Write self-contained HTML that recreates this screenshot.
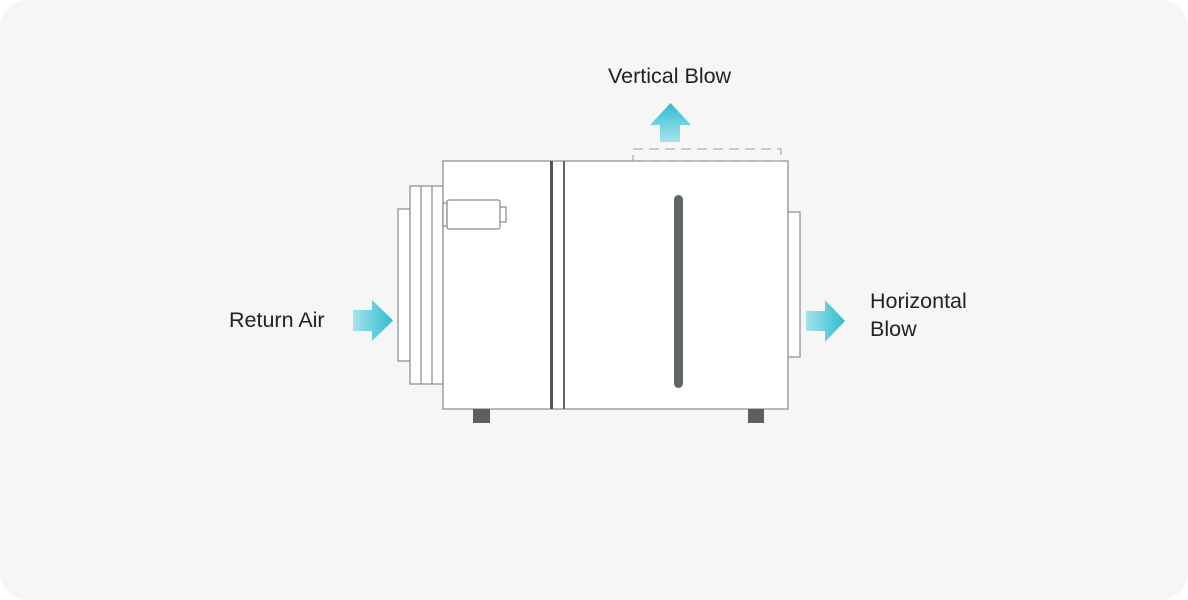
<!DOCTYPE html>
<html><head><style>
html,body{margin:0;padding:0;background:#fff;}
.card{position:absolute;left:0;top:0;width:1188px;height:600px;background:#f6f6f6;border-radius:28px;}
svg{position:absolute;left:0;top:0;}
text{font-family:"Liberation Sans",sans-serif;font-size:21.5px;fill:#222;}
</style></head><body>
<div class="card"></div>
<svg width="1188" height="600" viewBox="0 0 1188 600">
<defs>
<linearGradient id="gh" x1="0" x2="1" y1="0" y2="0"><stop offset="0" stop-color="#a6e3ee"/><stop offset="1" stop-color="#2fbccb"/></linearGradient>
<linearGradient id="gv" x1="0" x2="0" y1="1" y2="0"><stop offset="0" stop-color="#a6e3ee"/><stop offset="1" stop-color="#2fbccb"/></linearGradient>
</defs>
<g fill="#fff" stroke="#8a8a8a" stroke-width="1.2">
<rect x="398" y="209" width="12" height="152"/>
<rect x="410" y="186" width="33" height="198"/>
<line x1="421" y1="186" x2="421" y2="384"/>
<line x1="432" y1="186" x2="432" y2="384"/>
<rect x="788" y="212" width="12" height="145"/>
<rect x="443" y="161" width="345" height="248"/>
<rect x="443" y="203" width="4" height="23"/>
<rect x="447" y="200" width="53" height="29" rx="2"/>
<rect x="500" y="207" width="6" height="15"/>
</g>
<rect x="633" y="149" width="148" height="12" fill="none" stroke="#999" stroke-width="1" stroke-dasharray="10,6"/>
<rect x="550" y="161" width="3" height="248" fill="#555"/>
<rect x="563" y="161" width="2" height="248" fill="#666"/>
<rect x="674" y="195" width="9" height="193" rx="4.5" fill="#5f6866"/>
<rect x="473" y="409" width="17" height="14" fill="#5a5f60"/>
<rect x="748" y="409" width="16" height="14" fill="#5a5f60"/>
<polygon points="353,310 372,310 372,300 393,320.5 372,341 372,331 353,331" fill="url(#gh)"/>
<polygon points="806,311 825,311 825,300 845,321 825,342 825,331 806,331" fill="url(#gh)"/>
<polygon points="660,142 660,125 650,125 670.5,103 691,125 680,125 680,142" fill="url(#gv)"/>
<text x="229" y="327">Return Air</text>
<text x="608" y="83">Vertical Blow</text>
<text x="870" y="308">Horizontal</text>
<text x="870" y="336">Blow</text>
</svg>
</body></html>
